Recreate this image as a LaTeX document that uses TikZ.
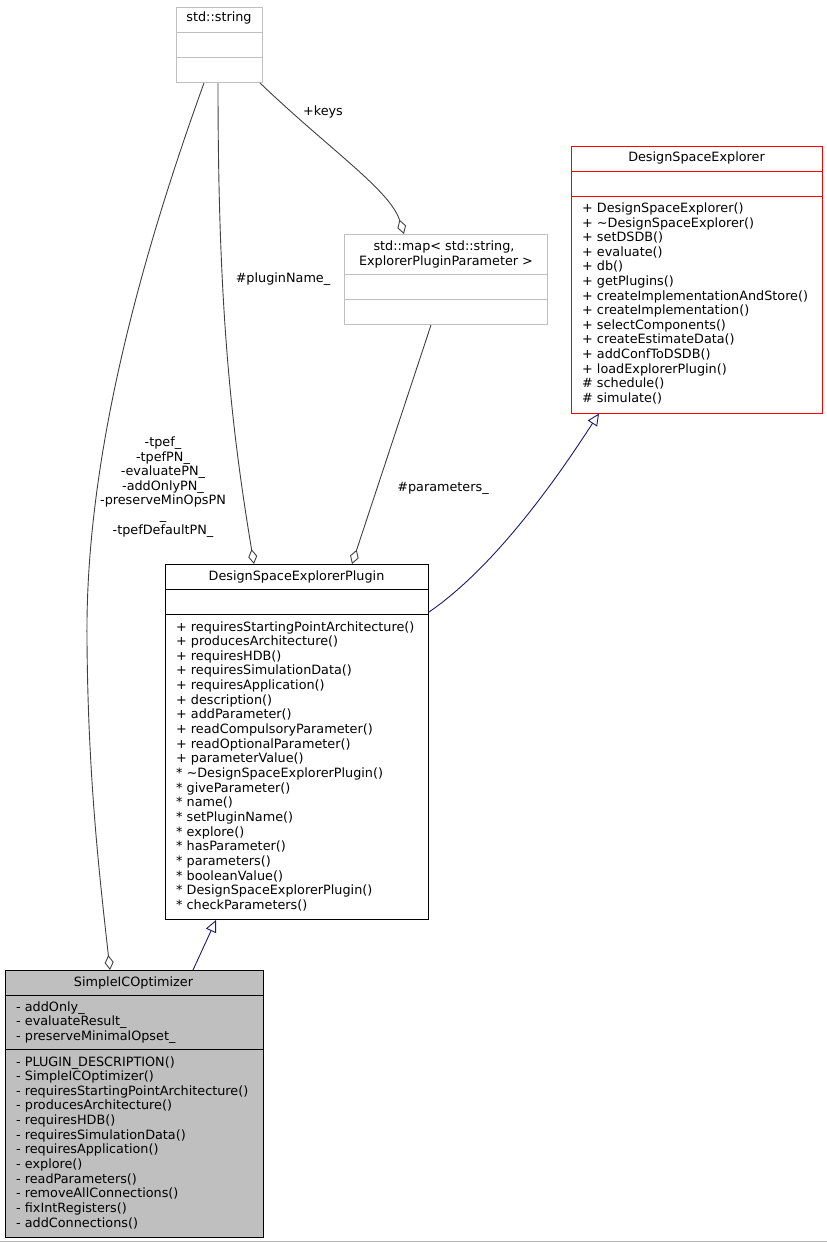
\documentclass[tikz,border=0pt]{standalone}
\usepackage{fontspec}
\setmainfont{DejaVu Sans}
\usetikzlibrary{arrows.meta}
\definecolor{grey25}{HTML}{404040}
\definecolor{grey75}{HTML}{BFBFBF}
\definecolor{mnavy}{HTML}{191970}
\begin{document}
\begin{tikzpicture}[x=1pt,y=-1pt,
  font=\fontsize{12.8}{14.6}\selectfont,
  box/.style={draw, line width=1pt, inner sep=0, anchor=north west},
  txt/.style={inner sep=0, anchor=base west},
  ttl/.style={inner sep=0, anchor=base},
  lbl/.style={inner sep=0, align=center},
  agg/.style={draw=grey25, line width=0.9pt, -{Diamond[open,length=15pt,width=9pt]}},
  inh/.style={draw=mnavy, line width=0.9pt, -{Triangle[open,length=12pt,width=11pt]}}
]
\useasboundingbox (0,0) rectangle (827,1243);

% std::string
\node[box, draw=grey75, minimum width=86pt, minimum height=75pt] (string) at (176,7) {};
\draw[grey75, line width=1pt] (176,32) -- (262,32) (176,57) -- (262,57);
\node[ttl] (string-t) at (219,21) {std::string};

% std::map
\node[box, draw=grey75, minimum width=203pt, minimum height=90pt] (map) at (344,234) {};
\draw[grey75, line width=1pt] (344,274.3) -- (547,274.3) (344,299.7) -- (547,299.7);
\node[ttl] (map-t1) at (444,250) {std::map< std::string,};
\node[ttl] (map-t2) at (446,265) {ExplorerPluginParameter >};

% DesignSpaceExplorer
\node[box, draw=red, minimum width=251pt, minimum height=266.5pt] (dse) at (571,146) {};
\draw[red, line width=1pt] (571,171.7) -- (822,171.7) (571,196.7) -- (822,196.7);
\node[ttl] (dse-t) at (696.5,161.5) {DesignSpaceExplorer};
\foreach \t [count=\i] in {{+ DesignSpaceExplorer()},{+ \textasciitilde DesignSpaceExplorer()},{+ setDSDB()},{+ evaluate()},{+ db()},{+ getPlugins()},{+ createImplementationAndStore()},{+ createImplementation()},{+ selectComponents()},{+ createEstimateData()},{+ addConfToDSDB()},{+ loadExplorerPlugin()},{\# schedule()},{\# simulate()}}
  \node[txt] (dse-m\i) at (582,{212.5+(\i-1)*14.6}) {\t};

% DesignSpaceExplorerPlugin
\node[box, minimum width=263pt, minimum height=355pt] (plugin) at (165,564) {};
\draw[line width=1pt] (165,589.3) -- (428,589.3) (165,614.3) -- (428,614.3);
\node[ttl] (plugin-t) at (296.5,580.5) {DesignSpaceExplorerPlugin};
\foreach \t [count=\i] in {{+ requiresStartingPointArchitecture()},{+ producesArchitecture()},{+ requiresHDB()},{+ requiresSimulationData()},{+ requiresApplication()},{+ description()},{+ addParameter()},{+ readCompulsoryParameter()},{+ readOptionalParameter()},{+ parameterValue()},{* \textasciitilde DesignSpaceExplorerPlugin()},{* giveParameter()},{* name()},{* setPluginName()},{* explore()},{* hasParameter()},{* parameters()},{* booleanValue()},{* DesignSpaceExplorerPlugin()},{* checkParameters()}}
  \node[txt] (plugin-m\i) at (176,{631+(\i-1)*14.65}) {\t};

% SimpleICOptimizer
\node[box, fill=grey75, minimum width=258pt, minimum height=266.5pt] (sic) at (5,970) {};
\draw[line width=1pt] (5,995) -- (263,995) (5,1049.5) -- (263,1049.5);
\node[ttl] (sic-t) at (133.5,986) {SimpleICOptimizer};
\foreach \t [count=\i] in {{- addOnly\_},{- evaluateResult\_},{- preserveMinimalOpset\_}}
  \node[txt] (sic-a\i) at (16,{1011+(\i-1)*14.8}) {\t};
\foreach \t [count=\i] in {{- PLUGIN\_DESCRIPTION()},{- SimpleICOptimizer()},{- requiresStartingPointArchitecture()},{- producesArchitecture()},{- requiresHDB()},{- requiresSimulationData()},{- requiresApplication()},{- explore()},{- readParameters()},{- removeAllConnections()},{- fixIntRegisters()},{- addConnections()}}
  \node[txt] (sic-m\i) at (16,{1066+(\i-1)*14.65}) {\t};

% connectors
\draw[agg] (string.south -| 204,0) .. controls (140,260) and (85,460) .. (87,640)
  .. controls (88,780) and (100,880) .. (sic.north -| 110,0);
\draw[agg] (string.south -| 218,0) .. controls (218,300) and (230,420) .. (plugin.north -| 254,0);
\draw[agg] (string.south -| 260,0) .. controls (330,150) and (390,190) .. (map.north -| 404,0);
\draw[agg] (map.south -| 431,0) -- (plugin.north -| 352,0);
\draw[inh] (plugin.east |- 0,612) .. controls (505,560) and (575,450) .. (dse.south -| 599,0);
\draw[inh] (sic.north -| 193,0) -- (plugin.south -| 216,0);

% labels
\node[lbl] (l-tpef) at (163,487) {-tpef\_\\-tpefPN\_\\-evaluatePN\_\\-addOnlyPN\_\\-preserveMinOpsPN\\\_\\-tpefDefaultPN\_};
\node[lbl] (l-plugin) at (283,279) {\#pluginName\_};
\node[lbl] (l-keys) at (323,112) {+keys};
\node[lbl] (l-param) at (443,488) {\#parameters\_};

% bottom rule
\draw[grey75!80!gray, line width=1pt] (0,1241.5) -- (827,1241.5);
\end{tikzpicture}
\end{document}
